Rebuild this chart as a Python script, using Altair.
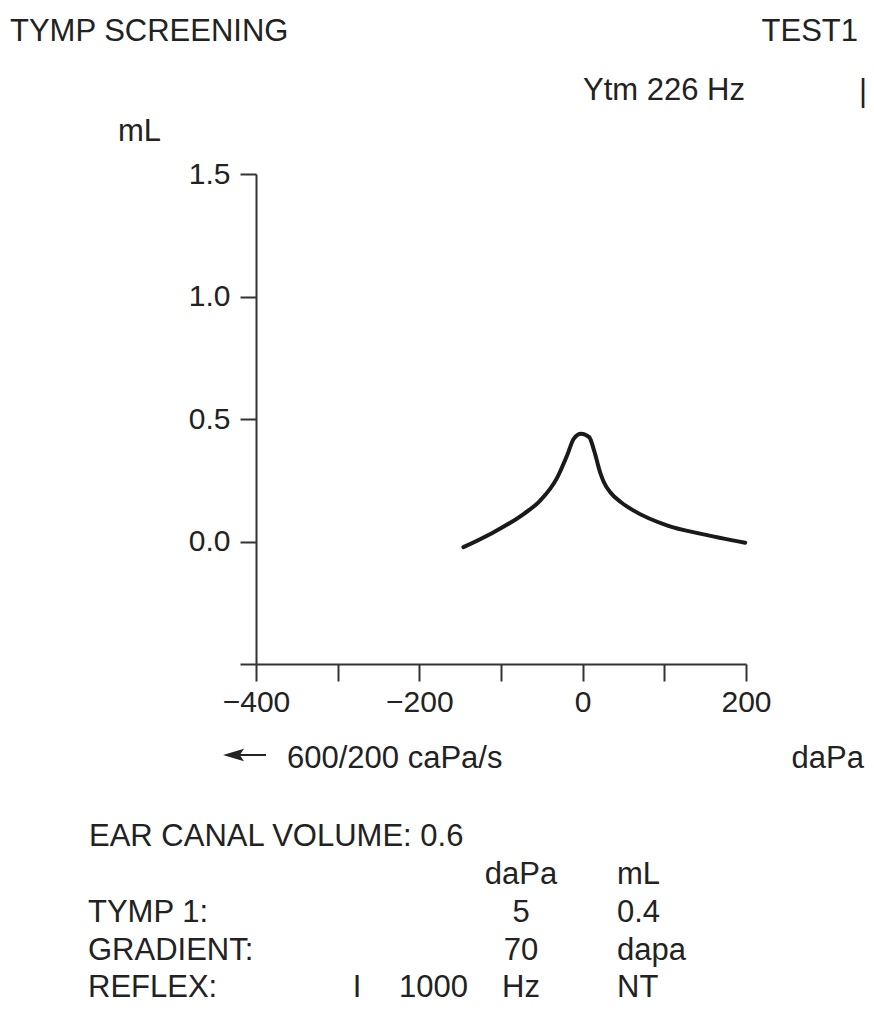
import altair as alt
import pandas as pd

# ---- data ----
pressure_dapa = [-146, -113, -72, -52, -31, -19, -11, -2, 8, 14, 22, 26, 34, 47, 63, 104, 145, 199]
admittance_ml = [-0.023, 0.031, 0.113, 0.167, 0.262, 0.352, 0.419, 0.44, 0.426, 0.371, 0.276,
                 0.242, 0.200, 0.160, 0.125, 0.065, 0.031, -0.005]
x_tick_values = [-400, -300, -200, -100, 0, 100, 200]
y_tick_values = [-0.5, 0.0, 0.5, 1.0, 1.5]

title_left = "TYMP SCREENING"
title_right = "TEST1"
probe_label = "Ytm 226 Hz"
y_unit = "mL"
x_unit = "daPa"
speed_label = "600/200 caPa/s"
ear_canal_volume = 0.6
table_header = ["daPa", "mL"]
tymp1 = ["5", "0.4"]
gradient = ["70", "dapa"]
reflex = ["I", "1000", "Hz", "NT"]

FONT = "Liberation Sans, Arial, Helvetica, sans-serif"
INK = "#222222"
FS = 31

df = pd.DataFrame({"p": pressure_dapa, "y": admittance_ml})

EN_SPACE = chr(0x2002)
x_label_expr = (
    "datum.value % 200 == 0 ? (datum.value < 0 ? datum.label + '" + EN_SPACE + "' : datum.label) : ''"
)

curve = alt.Chart(df).mark_line(
    interpolate="monotone", strokeWidth=4, color="#1a1a1a", strokeCap="round"
).encode(
    x=alt.X("p:Q", title="",
            scale=alt.Scale(domain=[-400, 200], nice=False, zero=False),
            axis=alt.Axis(values=x_tick_values, labelExpr=x_label_expr, tickSize=17,
                          labelPadding=6, labelFlush=False, labelOverlap=False)),
    y=alt.Y("y:Q", title="",
            scale=alt.Scale(domain=[-0.5, 1.5], nice=False, zero=False),
            axis=alt.Axis(values=y_tick_values, format=".1f",
                          labelExpr="datum.value < -0.25 ? '' : datum.label",
                          tickSize=16, labelPadding=10, labelFlush=False, labelOverlap=False)),
)

one = pd.DataFrame({"k": [0]})


def txt(s, x, y, align="left"):
    return alt.Chart(one).mark_text(
        text=s, align=align, baseline="alphabetic", font=FONT, fontSize=FS, color=INK
    ).encode(x=alt.value(x), y=alt.value(y))


# plot origin is at page (256, 174); table rows
ROWS = [672, 710, 748, 786, 823]
texts = [
    txt(title_left, -246, -133),
    txt(title_right, 602, -133, "right"),
    txt(probe_label, 327, -74),
    txt("|", 607, -73, "center"),
    txt(y_unit, -138, -33),
    txt(speed_label, 31, 594),
    txt(x_unit, 608, 594, "right"),
    txt(f"EAR CANAL VOLUME: {ear_canal_volume}", -167, ROWS[0]),
    txt(table_header[0], 265, ROWS[1], "center"),
    txt(table_header[1], 361, ROWS[1]),
    txt("TYMP 1:", -168, ROWS[2]),
    txt(tymp1[0], 265, ROWS[2], "center"),
    txt(tymp1[1], 361, ROWS[2]),
    txt("GRADIENT:", -168, ROWS[3]),
    txt(gradient[0], 265, ROWS[3], "center"),
    txt(gradient[1], 361, ROWS[3]),
    txt("REFLEX:", -168, ROWS[4]),
    txt(reflex[0], 101, ROWS[4], "center"),
    txt(reflex[1], 143, ROWS[4]),
    txt(reflex[2], 265, ROWS[4], "center"),
    txt(reflex[3], 361, ROWS[4]),
]

arrow_shaft = alt.Chart(one).mark_rule(color=INK, strokeWidth=2).encode(
    x=alt.value(-24), x2=alt.value(10), y=alt.value(581)
)
arrow_head = alt.Chart(one).mark_point(
    shape="M-1,0L1,-0.6L0.6,0L1,0.6Z", filled=True, size=441, color=INK, opacity=1
).encode(x=alt.value(-22.5), y=alt.value(581))

chart = alt.layer(curve, arrow_shaft, arrow_head, *texts).properties(
    width=490, height=490,
    padding={"left": 248, "top": 166, "right": 120, "bottom": 340},
    autosize=alt.AutoSizeParams(type="none"),
    background="white",
).configure_view(strokeWidth=0).configure_axis(
    domainColor="#333333", domainWidth=2, tickColor="#333333", tickWidth=2,
    labelFont=FONT, labelFontSize=30, labelColor=INK, grid=False,
)

chart.save("out.html", embed_options={"renderer": "svg", "actions": False})
